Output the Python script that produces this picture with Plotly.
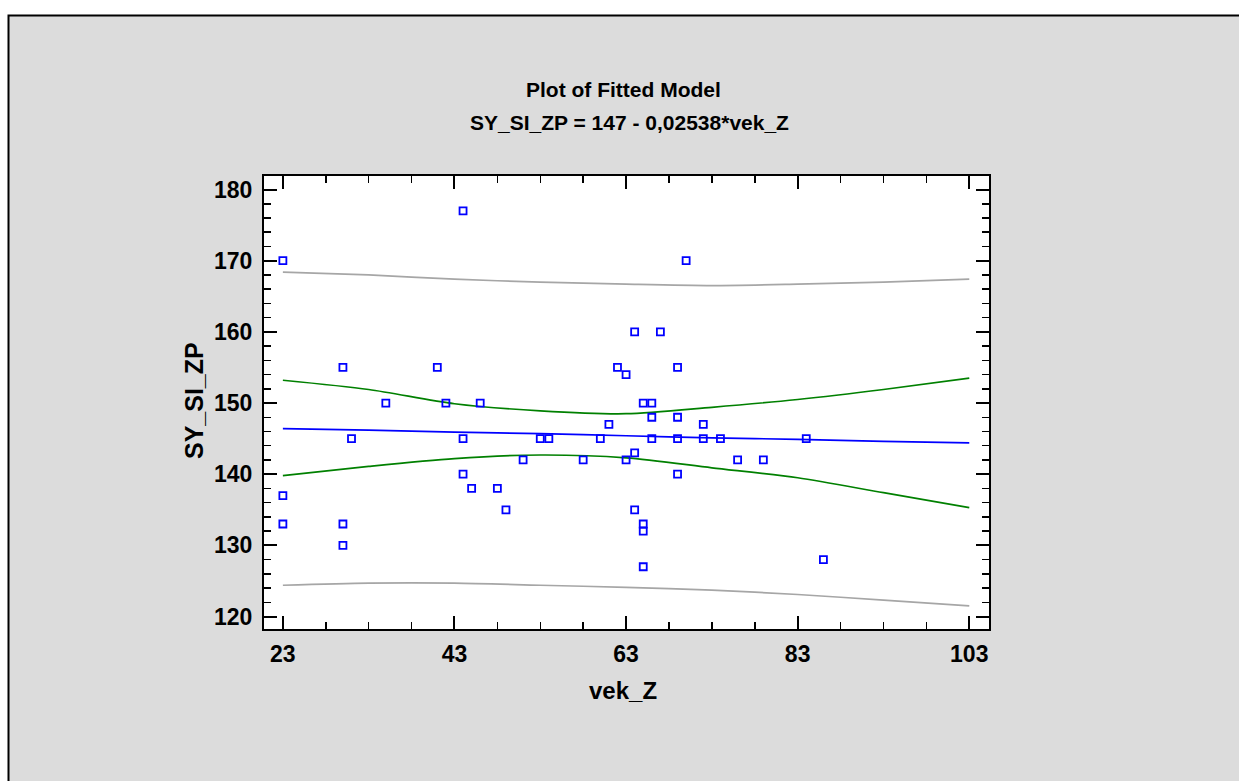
import plotly.graph_objects as go

# Observed data points (vek_Z, SY_SI_ZP)
pts_x = [23, 23, 23, 30, 30, 30, 31, 35, 41, 42, 44, 44, 44, 45, 46, 48, 49, 51, 53, 54,
         58, 60, 61, 62, 63, 63, 64, 64, 64, 65, 65, 65, 65, 66, 66, 66, 67, 69, 69, 69,
         69, 70, 72, 72, 74, 76, 79, 84, 86]
pts_y = [170, 137, 133, 155, 133, 130, 145, 150, 155, 150, 177, 145, 140, 138, 150, 138, 135, 142, 145, 145,
         142, 145, 147, 155, 154, 142, 160, 143, 135, 133, 132, 127, 150, 150, 148, 145, 160, 155, 148, 145,
         140, 170, 147, 145, 145, 142, 142, 145, 128]

# Fitted line and limits read at these x positions
band_x = [23, 33, 43, 53, 63, 73, 83, 93, 103]
fit_y = [146.4, 146.2, 145.9, 145.7, 145.4, 145.1, 144.9, 144.6, 144.4]
ci_upper = [153.2, 151.9, 149.9, 148.9, 148.5, 149.4, 150.5, 151.9, 153.5]
ci_lower = [139.8, 141.1, 142.2, 142.7, 142.3, 140.9, 139.5, 137.4, 135.3]
pi_upper = [168.4, 168.0, 167.4, 167.0, 166.7, 166.5, 166.7, 167.0, 167.4]
pi_lower = [124.4, 124.7, 124.7, 124.4, 124.1, 123.7, 123.1, 122.3, 121.5]

x_ticks = [23, 43, 63, 83, 103]
y_ticks = [120, 130, 140, 150, 160, 170, 180]

title1 = "Plot of Fitted Model"
title2 = "SY_SI_ZP = 147 - 0,02538*vek_Z"
x_title = "vek_Z"
y_title = "SY_SI_ZP"

FONT = "Liberation Sans, Arial, sans-serif"

fig = go.Figure()
for ys, col in [(pi_upper, "#a6a6a6"), (pi_lower, "#a6a6a6"),
                (ci_upper, "#008000"), (ci_lower, "#008000"),
                (fit_y, "#0000ff")]:
    fig.add_trace(go.Scatter(x=band_x, y=ys, mode="lines",
                             line=dict(color=col, width=1.7, shape="spline", smoothing=0.8),
                             hoverinfo="skip", showlegend=False))

fig.add_trace(go.Scatter(x=pts_x, y=pts_y, mode="markers",
                         marker=dict(symbol="square-open", size=7, color="#0000ff",
                                     line=dict(color="#0000ff", width=1.8)),
                         showlegend=False))

W, H = 1239, 781
L, R, T, B = 264, 250, 176, 152
pw, ph = W - L - R, H - T - B

def px_x(px):
    return (px - L) / pw

def px_y(py):
    return (H - B - py) / ph

shapes = [
    dict(type="rect", xref="paper", yref="paper",
         x0=px_x(8.5), x1=px_x(1300),
         y0=px_y(900), y1=px_y(15.5),
         fillcolor="#dcdcdc", line=dict(color="black", width=2), layer="below"),
    dict(type="rect", xref="paper", yref="paper", x0=0, x1=1, y0=0, y1=1,
         fillcolor="white", line=dict(width=0), layer="below"),
]

annotations = [
    dict(text="<b>%s</b>" % title1, xref="paper", yref="paper",
         x=px_x(623), y=px_y(90), showarrow=False,
         font=dict(family=FONT, size=21, color="black"), xanchor="center", yanchor="middle"),
    dict(text="<b>%s</b>" % title2, xref="paper", yref="paper",
         x=px_x(629), y=px_y(122), showarrow=False,
         font=dict(family=FONT, size=21, color="black"), xanchor="center", yanchor="middle"),
    dict(text="<b>%s</b>" % x_title, xref="paper", yref="paper",
         x=px_x(623), y=px_y(690), showarrow=False,
         font=dict(family=FONT, size=24, color="black"), xanchor="center", yanchor="middle"),
    dict(text="<b>%s</b>" % y_title, xref="paper", yref="paper",
         x=px_x(194), y=px_y(401), showarrow=False, textangle=-90,
         font=dict(family=FONT, size=25, color="black"), xanchor="center", yanchor="middle"),
]

axis_common = dict(
    showgrid=False, zeroline=False, showline=True, linecolor="black", linewidth=2,
    mirror="ticks", ticks="inside", ticklen=13, tickwidth=2, tickcolor="black",
    tickfont=dict(family=FONT, size=23, color="black"),
)

fig.update_layout(
    width=W, height=H,
    margin=dict(l=L, r=R, t=T, b=B, pad=0),
    paper_bgcolor="white", plot_bgcolor="rgba(0,0,0,0)",
    shapes=shapes, annotations=annotations, showlegend=False,
    xaxis=dict(range=[20.8, 105.3], tickmode="array", tickvals=x_ticks,
               ticktext=["<b>%d</b>" % v for v in x_ticks], ticklabelstandoff=3,
               minor=dict(tickmode="array", tickvals=[28, 33, 38, 48, 53, 58, 68, 73, 78, 88, 93, 98],
                          ticks="inside", ticklen=7, tickwidth=1.5, tickcolor="black"),
               **axis_common),
    yaxis=dict(range=[118.25, 181.9], tickmode="array", tickvals=y_ticks,
               ticktext=["<b>%d</b>" % v for v in y_ticks], ticklabelstandoff=5,
               minor=dict(tickmode="array", tickvals=[v for v in range(120, 182, 2) if v % 10 != 0],
                          ticks="inside", ticklen=7, tickwidth=1.5, tickcolor="black"),
               **axis_common),
)

fig.write_html(
    "out.html",
    config={"displayModeBar": False, "staticPlot": True},
    post_script="document.body.style.margin='0';"
                "document.body.style.overflow='hidden';"
                "document.documentElement.style.overflow='hidden';",
)
